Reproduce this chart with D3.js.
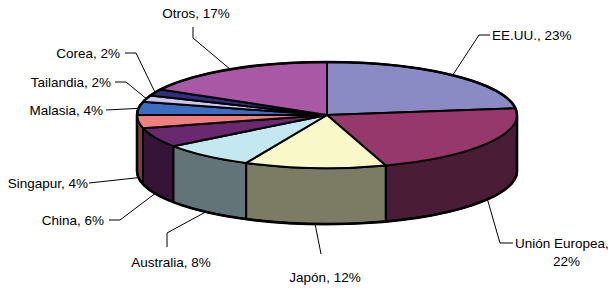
<!DOCTYPE html>
<html>
<head>
<meta charset="utf-8">
<script src="https://cdn.jsdelivr.net/npm/d3@7"></script>
<style>
  html, body { margin: 0; padding: 0; background: #fff; }
  svg { display: block; }
  text { font-family: "Liberation Sans", Arial, sans-serif; font-size: 13.5px; fill: #000; }
</style>
</head>
<body>
<div id="chart"></div>
<script>
// exportaciones por destino (%)
const categories = ['EE.UU.', 'Unión Europea', 'Japón', 'Australia', 'China', 'Singapur', 'Malasia', 'Tailandia', 'Corea', 'Otros'];
const values = [23, 22, 12, 8, 6, 4, 4, 2, 2, 17];

const topColors = ['#8a8ac4', '#96386c', '#f8f8c8', '#c4e8f0', '#6a2870', '#f08080', '#3a6cc0', '#c8c8ec', '#30307a', '#a858a4'];

// label placement: text pos, anchor, and leader bend points (elbow, end)
const labelLayout = [
  { x: 492, y: 35, anchor: 'start', pts: [[479, 35], [490, 35]] },
  { x: 515, y: 243, anchor: 'start', pts: [[500, 243], [513, 243]], split: true },
  { x: 325, y: 277, anchor: 'middle', pts: [[321, 254]] },
  { x: 171, y: 262, anchor: 'middle', pts: [[167, 233], [167, 247]] },
  { x: 104, y: 220, anchor: 'end', pts: [[120, 220], [109, 220]] },
  { x: 88, y: 183, anchor: 'end', pts: [[89, 183]] },
  { x: 103, y: 110, anchor: 'end', pts: [[106, 110]] },
  { x: 111, y: 82, anchor: 'end', pts: [[126, 82], [115, 82]] },
  { x: 120, y: 53, anchor: 'end', pts: [[136, 53], [125, 53]] },
  { x: 196, y: 13, anchor: 'middle', pts: [[193, 38], [193, 27]] },
];

const W = 608, H = 289;
const cx = 327, cy = 115, rx = 190, ry = 53, depth = 56;

const svg = d3.select('#chart').append('svg').attr('width', W).attr('height', H);

const arcs = d3.pie().sort(null).value(d => d)(values);

const px = a => cx + rx * Math.sin(a);
const py = a => cy - ry * Math.cos(a);

function topPath(a0, a1) {
  const large = (a1 - a0) > Math.PI ? 1 : 0;
  return `M${cx},${cy}L${px(a0)},${py(a0)}A${rx},${ry} 0 ${large} 1 ${px(a1)},${py(a1)}Z`;
}

function sidePath(a0, a1) {
  const b0 = Math.max(a0, Math.PI / 2), b1 = Math.min(a1, Math.PI * 1.5);
  if (b1 <= b0) return null;
  return `M${px(b0)},${py(b0)}A${rx},${ry} 0 0 1 ${px(b1)},${py(b1)}` +
    `L${px(b1)},${py(b1) + depth}A${rx},${ry} 0 0 0 ${px(b0)},${py(b0) + depth}Z`;
}

const pie = svg.append('g');

// side walls
arcs.forEach((d, i) => {
  const p = sidePath(d.startAngle, d.endAngle);
  if (!p) return;
  pie.append('path')
    .attr('d', p)
    .attr('fill', d3.color(topColors[i]).darker(1.95))
    .attr('stroke', '#000')
    .attr('stroke-width', 2)
    .attr('stroke-linejoin', 'round');
});

// top faces
arcs.forEach((d, i) => {
  pie.append('path')
    .attr('d', topPath(d.startAngle, d.endAngle))
    .attr('fill', topColors[i])
    .attr('stroke', '#000')
    .attr('stroke-width', 2)
    .attr('stroke-linejoin', 'round');
});

// heavier outer rim
pie.append('path')
  .attr('d', `M${cx - rx},${cy}A${rx},${ry} 0 1 1 ${cx + rx},${cy}L${cx + rx},${cy + depth}` +
    `A${rx},${ry} 0 0 1 ${cx - rx},${cy + depth}Z`)
  .attr('fill', 'none')
  .attr('stroke', '#000')
  .attr('stroke-width', 2.6)
  .attr('stroke-linejoin', 'round');

// labels + leader lines
const labels = svg.append('g');
arcs.forEach((d, i) => {
  const lay = labelLayout[i];
  const mid = (d.startAngle + d.endAngle) / 2;
  const front = Math.cos(mid) < 0;
  const anchorPt = [px(mid), py(mid) + (front ? depth : 0)];
  labels.append('path')
    .attr('d', d3.line()([anchorPt, ...lay.pts]))
    .attr('fill', 'none')
    .attr('stroke', '#000')
    .attr('stroke-width', 1);

  const t = labels.append('text')
    .attr('text-anchor', lay.anchor)
    .attr('dominant-baseline', 'central');
  if (lay.split) {
    t.append('tspan').attr('x', lay.x).attr('y', lay.y).text(categories[i] + ',');
    t.append('tspan').attr('x', lay.x + 38).attr('y', lay.y + 18).text(values[i] + '%');
  } else {
    t.attr('x', lay.x).attr('y', lay.y).text(`${categories[i]}, ${values[i]}%`);
  }
});
</script>
</body>
</html>
